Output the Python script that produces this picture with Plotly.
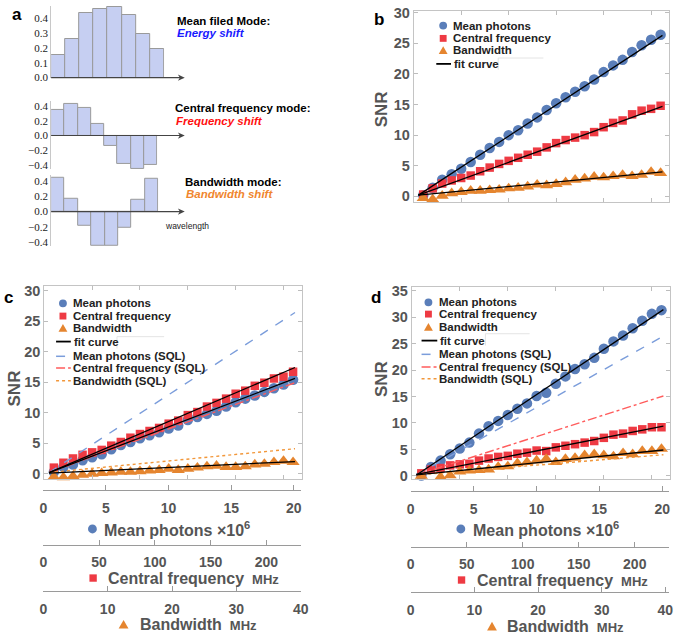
import plotly.graph_objects as go

W, H = 685, 639
def X(px): return px / W
def Y(py): return 1 - py / H

# ---------------- data ----------------
# panel a: mode shapes over 8 wavelength bins
bins = [1, 2, 3, 4, 5, 6, 7, 8]
mean_field_mode = [0.15, 0.26, 0.43, 0.46, 0.47, 0.42, 0.29, 0.19]
central_freq_mode = [0.35, 0.43, 0.38, 0.16, -0.14, -0.38, -0.45, -0.40]
bandwidth_mode = [0.45, 0.17, -0.19, -0.45, -0.45, -0.21, 0.16, 0.44]
a_ticks_pos = [0.0, 0.1, 0.2, 0.3, 0.4]
a_ticks_sym = [-0.4, -0.2, 0.0, 0.2, 0.4]

# panels b-d: SNR for 26 measurement points
point_index = [1, 2, 3, 4, 5, 6, 7, 8, 9, 10, 11, 12, 13, 14, 15, 16, 17, 18, 19, 20,
               21, 22, 23, 24, 25, 26]

b_mean = [0.2, 1.4, 2.7, 3.6, 4.5, 5.6, 6.8, 7.9, 8.9, 10.0, 10.8, 11.9, 12.9, 14.1,
          15.2, 16.2, 17.1, 18.0, 19.1, 20.3, 21.4, 22.3, 23.6, 24.7, 25.6, 26.4]
b_central = [0.3, 1.3, 2.1, 2.6, 3.0, 3.4, 4.1, 4.7, 5.3, 5.8, 6.3, 6.8, 7.3, 8.0,
             8.7, 9.2, 9.6, 10.0, 10.5, 11.3, 12.0, 12.4, 13.4, 14.0, 14.3, 14.8]
b_bandwidth = [-0.3, -0.5, 0.1, 0.5, 0.7, 0.9, 0.9, 1.0, 1.1, 1.3, 1.4, 1.6, 1.9, 1.8,
               2.0, 2.3, 2.7, 2.9, 3.2, 3.1, 3.3, 3.5, 3.3, 3.5, 4.0, 3.8]

c_mean = [0.3, 1.1, 1.5, 2.2, 2.7, 3.2, 4.0, 4.7, 5.2, 5.8, 6.3, 6.8, 7.4, 7.9,
          8.8, 9.3, 9.8, 10.3, 11.0, 11.7, 12.3, 12.8, 13.4, 14.0, 14.6, 15.4]
c_central = [1.0, 1.8, 2.5, 3.1, 3.5, 3.9, 4.6, 5.2, 5.9, 6.5, 7.0, 7.5, 8.2, 8.7,
             9.6, 10.1, 11.0, 11.6, 12.3, 13.1, 13.6, 14.4, 14.9, 15.6, 15.9, 16.7]
c_bandwidth = [-0.5, -0.6, -0.4, -0.2, 0.0, 0.1, 0.2, 0.3, 0.3, 0.4, 0.5, 0.6, 0.8, 0.6,
               0.8, 1.0, 1.2, 1.3, 1.1, 1.1, 1.2, 1.5, 1.6, 1.9, 2.1, 1.9]

d_mean = [0.1, 1.7, 2.9, 4.1, 5.2, 6.3, 8.0, 9.4, 10.4, 11.5, 12.7, 13.7, 15.1, 15.7,
          17.4, 18.8, 20.2, 21.1, 22.3, 24.0, 25.4, 26.5, 27.9, 29.3, 30.6, 31.3]
d_central = [0.5, 1.2, 1.5, 2.0, 2.2, 2.3, 2.9, 3.3, 3.6, 3.8, 4.2, 4.4, 4.8, 4.7,
             5.4, 5.7, 6.0, 6.3, 6.6, 7.2, 7.8, 8.0, 8.5, 8.8, 9.2, 9.2]
d_bandwidth = [0.0, -0.7, -0.2, 0.1, 0.8, 1.0, 1.1, 1.2, 1.7, 1.8, 2.4, 2.6, 2.9, 3.2,
               2.6, 3.2, 3.4, 3.9, 4.1, 3.9, 3.7, 4.3, 4.1, 4.7, 4.7, 5.1]

# fit curves / SQL lines (start, end) over the index span
line_x = [0.5, 26.2]
b_fit = {"mean": [0.2, 26.3], "central": [0.2, 14.7], "bandwidth": [0.2, 4.0]}
c_fit = {"mean": [0.2, 15.6], "central": [0.2, 17.4], "bandwidth": [0.1, 2.0]}
c_sql = {"mean": [0.2, 26.4], "central": [0.2, 14.9], "bandwidth": [0.2, 4.1]}
d_fit = {"mean": [0.2, 31.4], "central": [0.3, 9.4], "bandwidth": [0.2, 4.9]}
d_sql = {"mean": [0.2, 26.4], "central": [0.2, 15.1], "bandwidth": [0.2, 4.0]}

frame_ticks = [5, 10, 15, 20, 25]
snr_ticks_bc = [0, 5, 10, 15, 20, 25, 30]
snr_ticks_d = [0, 5, 10, 15, 20, 25, 30, 35]
photon_ticks = [0, 5, 10, 15, 20]
freq_ticks = [0, 50, 100, 150, 200]
bw_ticks = [0, 10, 20, 30, 40]

BLUE = "#5a7eb9"
RED = "#ee3a43"
ORANGE = "#e5852f"
SQL_BLUE = "#7b9ddb"
SQL_RED = "#ff5c5c"
SQL_ORANGE = "#f2973a"
GREY = "#555555"
SANS = "Liberation Sans"

fig = go.Figure()

# ---------------- panel a ----------------
bar_style = dict(marker=dict(color="#c6cff2", line=dict(color="#9a9a9a", width=1)),
                 width=1.0, showlegend=False, hoverinfo="skip")
fig.add_trace(go.Bar(x=bins, y=mean_field_mode, xaxis="x", yaxis="y", **bar_style))
fig.add_trace(go.Bar(x=bins, y=central_freq_mode, xaxis="x2", yaxis="y2", **bar_style))
fig.add_trace(go.Bar(x=bins, y=bandwidth_mode, xaxis="x3", yaxis="y3", **bar_style))

# ---------------- panels b-d ----------------
def add_panel(xa, ya, mean, central, bw, fit, sql=None):
    common = dict(xaxis=xa, yaxis=ya, showlegend=False, hoverinfo="skip", cliponaxis=False)
    fig.add_trace(go.Scatter(x=point_index, y=mean, mode="markers",
                             marker=dict(symbol="circle", size=10.5, color=BLUE), **common))
    fig.add_trace(go.Scatter(x=point_index, y=central, mode="markers",
                             marker=dict(symbol="square", size=8.5, color=RED), **common))
    fig.add_trace(go.Scatter(x=point_index, y=bw, mode="markers",
                             marker=dict(symbol="triangle-up", size=11.5, color=ORANGE), **common))
    if sql:
        fig.add_trace(go.Scatter(x=line_x, y=sql["mean"], mode="lines",
                                 line=dict(color=SQL_BLUE, width=1.4, dash="dash"), **common))
        fig.add_trace(go.Scatter(x=line_x, y=sql["central"], mode="lines",
                                 line=dict(color=SQL_RED, width=1.4, dash="dashdot"), **common))
        fig.add_trace(go.Scatter(x=line_x, y=sql["bandwidth"], mode="lines",
                                 line=dict(color=SQL_ORANGE, width=1.4, dash="dot"), **common))
    for k in ["mean", "central", "bandwidth"]:
        fig.add_trace(go.Scatter(x=line_x, y=fit[k], mode="lines",
                                 line=dict(color="black", width=1.3), **common))

add_panel("x4", "y4", b_mean, b_central, b_bandwidth, b_fit)
add_panel("x5", "y5", c_mean, c_central, c_bandwidth, c_fit, c_sql)
add_panel("x6", "y6", d_mean, d_central, d_bandwidth, d_fit, d_sql)

# empty carrier traces so the stand-alone unit axes are drawn
for xa, ya in [("x7", "y7"), ("x8", "y8"), ("x9", "y9"),
               ("x10", "y10"), ("x11", "y11"), ("x12", "y12")]:
    fig.add_trace(go.Scatter(x=[0], y=[0.5], mode="markers", marker=dict(opacity=0),
                             xaxis=xa, yaxis=ya, showlegend=False, hoverinfo="skip"))

# ---------------- axes ----------------
def fmt(v):
    s = f"{abs(v):.1f}"
    return ("\u2212" + s) if v < 0 else s

def a_x(dom, anchor):
    return dict(domain=[X(dom[0]), X(dom[1])], range=[0.5, 8.5], visible=False, anchor=anchor)

def a_y(top, bot, rng, ticks, anchor):
    return dict(domain=[Y(bot), Y(top)], range=rng, anchor=anchor, showline=True,
                linecolor="#c8c8c8", linewidth=1, ticks="", showgrid=False, zeroline=False,
                tickvals=ticks, ticktext=[fmt(t) for t in ticks],
                tickfont=dict(family="Liberation Serif", size=11, color="#222"))

def frame_x(l, r, anchor):
    return dict(domain=[X(l), X(r)], range=[0, 26.9], anchor=anchor, showline=True,
                linecolor="#c4c4c4", linewidth=1, mirror="ticks", ticks="inside", ticklen=4,
                tickcolor="#bdbdbd", tickvals=frame_ticks, showticklabels=False,
                showgrid=False, zeroline=False)

def frame_y(top, bot, rng, ticks, anchor):
    return dict(domain=[Y(bot), Y(top)], range=rng, anchor=anchor, showline=True,
                linecolor="#c4c4c4", linewidth=1, mirror="ticks", ticks="inside", ticklen=4,
                tickcolor="#bdbdbd", tickvals=ticks, showgrid=False, zeroline=False,
                tickfont=dict(family=SANS, size=14.5, color=GREY, weight="bold"))

def band_x(l, r, rng, ticks, anchor):
    return dict(domain=[X(l), X(r)], range=rng, anchor=anchor, showline=True,
                linecolor="#9a9a9a", linewidth=1, ticks="inside", ticklen=5,
                tickcolor="#9a9a9a", tickvals=ticks, showgrid=False, zeroline=False,
                ticklabelstandoff=5,
                tickfont=dict(family=SANS, size=14, color=GREY, weight="bold"))

def band_y(py, anchor):
    return dict(domain=[Y(py), Y(py - 2)], range=[0, 1], visible=False, anchor=anchor)

layout = dict(
    width=W, height=H, margin=dict(l=0, r=0, t=0, b=0),
    paper_bgcolor="white", plot_bgcolor="white", showlegend=False, bargap=0,
    xaxis=a_x((48, 163), "y"),
    yaxis=a_y(0, 73, [0, 0.48], a_ticks_pos, "x"),
    xaxis2=a_x((48, 156), "y2"),
    yaxis2=a_y(96.75, 166.5, [-0.46, 0.47], a_ticks_sym, "x2"),
    xaxis3=a_x((48, 157), "y3"),
    yaxis3=a_y(172, 245, [-0.461, 0.487], a_ticks_sym, "x3"),
    xaxis4=frame_x(417, 677, "y4"),
    yaxis4=frame_y(5, 199.3, [-0.85, 30.3], snr_ticks_bc, "x4"),
    xaxis5=frame_x(41, 303, "y5"),
    yaxis5=frame_y(285, 482.3, [-0.9, 30.8], snr_ticks_bc, "x5"),
    xaxis6=frame_x(415, 678, "y6"),
    yaxis6=frame_y(286, 482, [-0.56, 35.74], snr_ticks_d, "x6"),
    xaxis7=band_x(40, 302, [0, 20.55], photon_ticks, "y7"), yaxis7=band_y(493, "x7"),
    xaxis8=band_x(40, 302, [0, 230.8], freq_ticks, "y8"), yaxis8=band_y(549, "x8"),
    xaxis9=band_x(40, 302, [0, 40], bw_ticks, "y9"), yaxis9=band_y(596, "x9"),
    xaxis10=band_x(414, 677, [0, 20.55], photon_ticks, "y10"), yaxis10=band_y(494, "x10"),
    xaxis11=band_x(414, 677, [0, 230.7], freq_ticks, "y11"), yaxis11=band_y(551, "x11"),
    xaxis12=band_x(414, 677, [0, 40.6], bw_ticks, "y12"), yaxis12=band_y(597, "x12"),
)
fig.update_layout(**layout)

# ---------------- annotations & shapes ----------------
ann = []
shapes = []

def text(px, py, s, size=11, color="#111", anchor="left", bold=True, italic=False, angle=0):
    ann.append(dict(x=X(px), y=Y(py), xref="paper", yref="paper", text=s, showarrow=False,
                    xanchor=anchor, yanchor="middle", textangle=angle, borderpad=0,
                    font=dict(family=SANS, size=size, color=color,
                              weight="bold" if bold else "normal",
                              style="italic" if italic else "normal")))

def circle(cx, cy, d, color):
    shapes.append(dict(type="circle", xref="paper", yref="paper", x0=X(cx - d / 2),
                       x1=X(cx + d / 2), y0=Y(cy + d / 2), y1=Y(cy - d / 2),
                       fillcolor=color, line=dict(width=0)))

def square(cx, cy, d, color):
    shapes.append(dict(type="rect", xref="paper", yref="paper", x0=X(cx - d / 2),
                       x1=X(cx + d / 2), y0=Y(cy + d / 2), y1=Y(cy - d / 2),
                       fillcolor=color, line=dict(width=0)))

def tri(cx, cy, w, color):
    h = w * 0.87
    p = (f"M {X(cx - w / 2)},{Y(cy + h / 2)} L {X(cx + w / 2)},{Y(cy + h / 2)} "
         f"L {X(cx)},{Y(cy - h / 2)} Z")
    shapes.append(dict(type="path", xref="paper", yref="paper", path=p,
                       fillcolor=color, line=dict(width=0)))

def hline(x0, x1, py, color, dash="solid", width=1.5):
    shapes.append(dict(type="line", xref="paper", yref="paper", x0=X(x0), x1=X(x1),
                       y0=Y(py), y1=Y(py), line=dict(color=color, dash=dash, width=width)))

def vline(px, y0, y1, color, width=1):
    shapes.append(dict(type="line", xref="paper", yref="paper", x0=X(px), x1=X(px),
                       y0=Y(y0), y1=Y(y1), line=dict(color=color, width=width)))

def arrow(x0, x1, py):
    hline(x0, x1 - 4, py, "#444", width=1.2)
    p = (f"M {X(x1)},{Y(py)} L {X(x1 - 7)},{Y(py - 3.2)} L {X(x1 - 5)},{Y(py)} "
         f"L {X(x1 - 7)},{Y(py + 3.2)} Z")
    shapes.append(dict(type="path", xref="paper", yref="paper", path=p,
                       fillcolor="#444", line=dict(width=0)))

# panel letters
text(13, 9, "a", size=17, color="black", anchor="center")
text(382, 14, "b", size=17, color="black", anchor="center")
text(5, 297, "c", size=17, color="black", anchor="center")
text(379, 297, "d", size=17, color="black", anchor="center")

# panel a
arrow(48, 184, 73)
arrow(48, 184, 132)
arrow(48, 184, 209.5)
text(175, 15, "Mean filed Mode:", size=11.5, color="black")
text(175, 28, "Energy shift", size=11.5, color="#1a1aff", italic=True)
text(173, 104, "Central frequency mode:", size=11.5, color="black")
text(174, 117, "Frequency shift", size=11.5, color="#ff1010", italic=True)
text(183, 179, "Bandwidth mode:", size=11.5, color="black")
text(184, 192, "Bandwidth shift", size=11.5, color="#f0862e", italic=True)
text(163, 224, "wavelength", size=8.5, color="#222", bold=False)

# SNR labels
text(384, 105, "SNR", size=17, color=GREY, anchor="center", angle=-90)
text(11, 390, "SNR", size=17, color=GREY, anchor="center", angle=-90)
text(385, 380, "SNR", size=17, color=GREY, anchor="center", angle=-90)

# legends
LEG = 11.5
def legend(mx, tx, rows, with_sql, box):
    circle(mx, rows[0], 8, BLUE); text(tx, rows[0], "Mean photons", size=LEG, color="#222")
    square(mx, rows[1], 7, RED); text(tx, rows[1], "Central frequency", size=LEG, color="#222")
    tri(mx, rows[2], 9, ORANGE); text(tx, rows[2], "Bandwidth", size=LEG, color="#222")
    hline(mx - 7, tx - 1, rows[3], "black", width=1.8)
    text(tx + 1, rows[3], "fit curve", size=LEG, color="#222")
    if with_sql:
        hline(mx - 7, tx - 1, rows[4], SQL_BLUE, "dash", 1.5)
        text(tx, rows[4], "Mean photons (SQL)", size=LEG, color="#222")
        hline(mx - 7, tx - 1, rows[5], SQL_RED, "dashdot", 1.5)
        text(tx, rows[5], "Central frequency (SQL)", size=LEG, color="#222")
        hline(mx - 7, tx - 1, rows[6], SQL_ORANGE, "dot", 1.5)
        text(tx, rows[6], "Bandwidth (SQL)", size=LEG, color="#222")
    bx0, bx1, by = box
    hline(bx0, bx1, by, "#e4e4e4", width=1)
    vline(bx0, by, by + 12, "#e4e4e4")

legend(447, 456, [20, 33, 45, 59], False, (503, 549, 53))
legend(60, 69, [303, 316, 328, 342, 357, 369, 382], True, (115, 163, 337))
legend(432, 442, [302, 314, 327, 341, 355, 368, 380], True, (490, 535, 334))

# bottom axis titles
def axis_titles(sym_x, txt_x, rows):
    circle(sym_x[0], rows[0], 9, BLUE)
    text(txt_x[0], rows[0], "Mean photons \u00d710<sup>6</sup>", size=16, color=GREY)
    square(sym_x[1], rows[1], 7.5, RED)
    text(txt_x[1], rows[1], "Central frequency <span style='font-size:13px'> MHz</span>",
         size=16, color=GREY)
    tri(sym_x[2], rows[2], 10, ORANGE)
    text(txt_x[2], rows[2], "Bandwidth <span style='font-size:13px'> MHz</span>",
         size=16, color=GREY)

axis_titles((90, 90.7, 121.7), (101, 105, 137), (533, 583, 630))
axis_titles((465, 465.7, 496.7), (476, 480, 511), (533, 585, 632))

fig.update_layout(annotations=ann, shapes=shapes)
fig.write_html("out.html", config={"displayModeBar": False},
               post_script="document.body.style.margin='0px';"
                           "document.body.style.overflow='hidden';")
